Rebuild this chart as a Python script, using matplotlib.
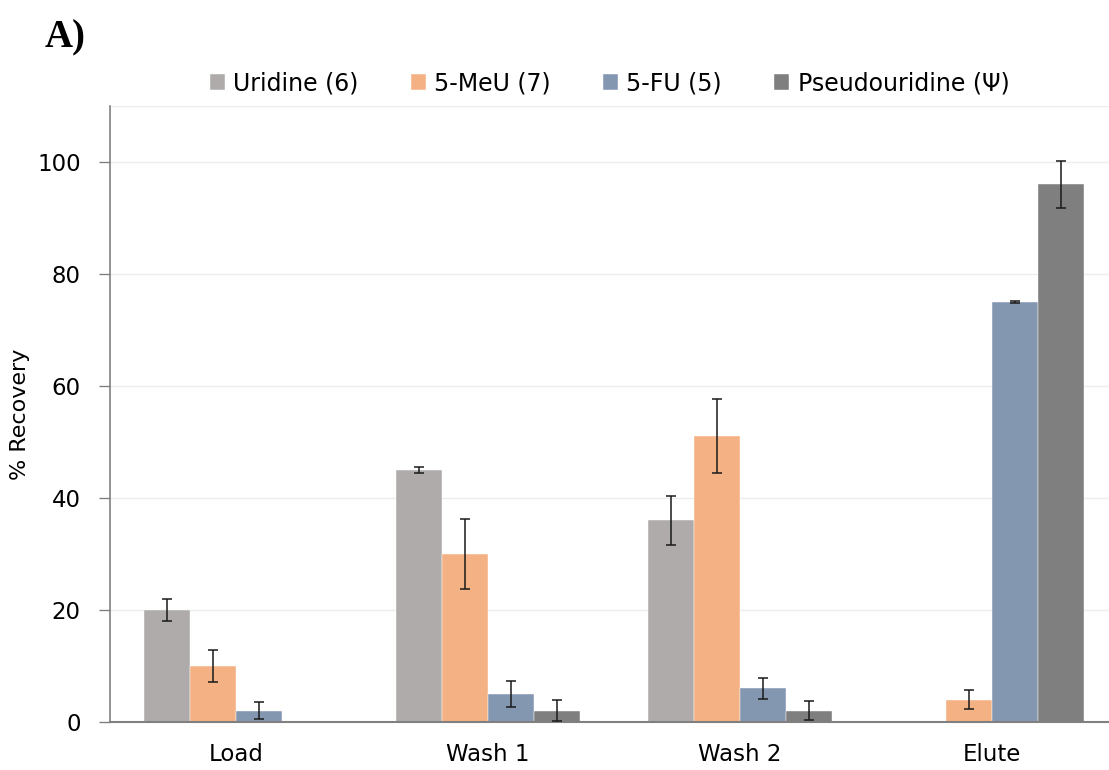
import numpy as np
import matplotlib
matplotlib.use("Agg")
import matplotlib.pyplot as plt

# ── data ─────────────────────────────────────────────────────────────────────
categories = ["Load", "Wash 1", "Wash 2", "Elute"]
series     = ["Uridine (6)", "5-MeU (7)", "5-FU (5)", "Pseudouridine (\u03a8)"]
colors     = ["#AFABAB", "#F4B183", "#8497B0", "#7F7F7F"]

uridine     = [20, 45, 36, 0]
uridine_err = [1.9, 0.6, 4.3, 0]
meu         = [10, 30, 51, 4]
meu_err     = [2.9, 6.3, 6.6, 1.7]
fu          = [2, 5, 6, 75]
fu_err      = [1.5, 2.3, 1.8, 0.1]
pseudo      = [0, 2, 2, 96]
pseudo_err  = [0, 1.9, 1.7, 4.2]

values = [uridine, meu, fu, pseudo]
errors = [uridine_err, meu_err, fu_err, pseudo_err]

# ── plot ─────────────────────────────────────────────────────────────────────
plt.rcParams["font.family"] = ["DejaVu Sans"]

fig = plt.figure(figsize=(11.09, 7.70), dpi=100)
ax = fig.add_axes([0.0992, 0.0623, 0.9008, 0.80])

x = np.arange(len(categories))
w = 0.1825
for i, (name, vals, errs, col) in enumerate(zip(series, values, errors, colors)):
    pos = x + (i - 1.5) * w
    vals = np.array(vals, dtype=float)
    errs = np.array(errs, dtype=float)
    ax.bar(pos, vals, width=w, color=col, edgecolor="white", linewidth=0.3,
           label=name, zorder=2)
    show = vals > 0
    ax.errorbar(pos[show], vals[show], yerr=errs[show], fmt="none",
                ecolor="#1a1a1a", elinewidth=1.1, capsize=3.6, capthick=1.1,
                zorder=3)

ax.set_xlim(-0.5, 3.464)
ax.set_ylim(0, 110)
ax.set_yticks([0, 20, 40, 60, 80, 100])
ax.set_xticks(x)
ax.set_xticklabels(categories)
ax.tick_params(axis="y", labelsize=16.5, length=8, color="#808080", width=1, pad=13)
ax.tick_params(axis="x", labelsize=16.5, length=0, pad=15)
ax.yaxis.grid(True, color="#EDEDED", linewidth=1)
ax.axhline(110, color="#EDEDED", linewidth=1, zorder=0)
ax.set_axisbelow(True)
for s in ["top", "right"]:
    ax.spines[s].set_visible(False)
ax.spines["left"].set_color("#808080")
ax.spines["bottom"].set_color("#808080")
ax.spines["left"].set_linewidth(1.2)
ax.spines["bottom"].set_linewidth(1.5)
ax.set_ylabel("% Recovery", fontsize=16, labelpad=5)

ax.legend(loc="center", bbox_to_anchor=(0.5, 1.037), ncol=4, frameon=False,
          fontsize=17, handlelength=0.65, handleheight=0.65, handletextpad=0.35,
          columnspacing=2.2)

fig.text(0.04, 0.939, "A)", fontsize=28, fontweight="bold",
         family="Liberation Serif")

fig.savefig("out.png", dpi=100)
